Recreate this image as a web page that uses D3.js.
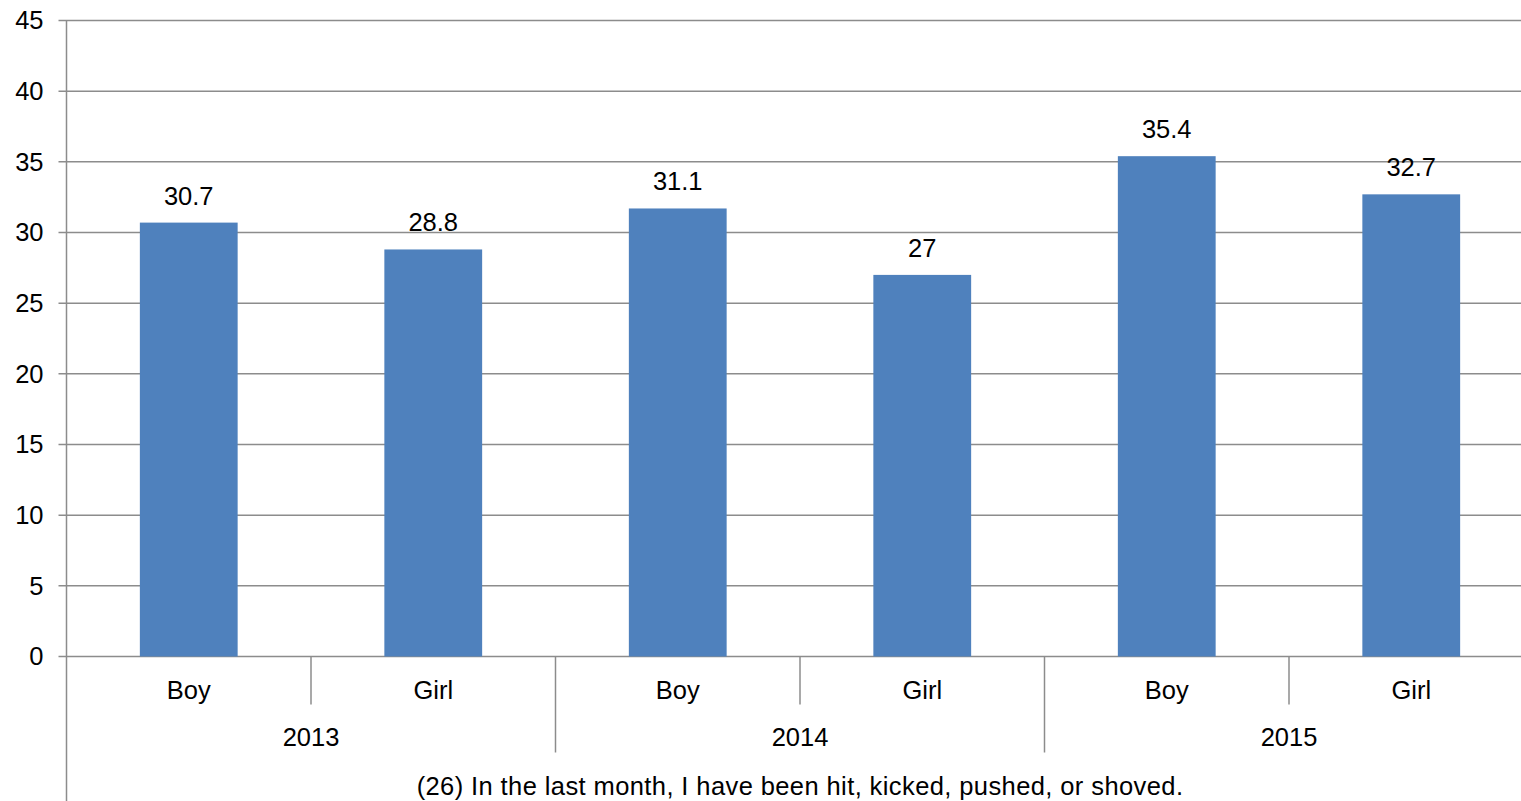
<!DOCTYPE html>
<html>
<head>
<meta charset="utf-8">
<script src="https://cdn.jsdelivr.net/npm/d3@7/dist/d3.min.js"></script>
<style>
  body { margin: 0; background: #fff; }
  svg { display: block; font-family: "Liberation Sans", Arial, sans-serif; }
  .grid line { stroke: #8c8c8c; stroke-width: 1.5px; }
  .axisLine { stroke: #8c8c8c; stroke-width: 1.5px; }
  text { fill: #000; font-size: 25.5px; }
</style>
</head>
<body>
<div id="chart"></div>
<script>
// data
var years = ['2013', '2014', '2015'];
var genders = ['Boy', 'Girl'];
var values = [30.7, 28.8, 31.7, 27, 35.4, 32.7];
var valueLabels = ['30.7', '28.8', '31.1', '27', '35.4', '32.7'];
var yTicks = [0, 5, 10, 15, 20, 25, 30, 35, 40, 45];
var caption = '(26) In the last month, I have been hit, kicked, pushed, or shoved.';

var W = 1521, H = 801;
var margin = { top: 20.5, left: 66.5 };
var plotW = 1467, plotH = 636;

var rows = [];
years.forEach(function(y) {
  genders.forEach(function(g) {
    rows.push({ year: y, gender: g, key: y + '-' + g });
  });
});
rows.forEach(function(d, i) { d.value = values[i]; d.label = valueLabels[i]; });

var x = d3.scaleBand()
  .domain(rows.map(function(d) { return d.key; }))
  .range([0, plotW])
  .paddingInner(0.6)
  .paddingOuter(0.3);

var y = d3.scaleLinear()
  .domain([0, 45])
  .range([plotH, 0]);

var svg = d3.select('#chart').append('svg')
  .attr('width', W)
  .attr('height', H);

var g = svg.append('g')
  .attr('transform', 'translate(' + margin.left + ',' + margin.top + ')');

// gridlines + left ticks
g.append('g')
  .attr('class', 'grid')
  .selectAll('line')
  .data(yTicks)
  .enter()
  .append('line')
  .attr('x1', -8)
  .attr('x2', plotW)
  .attr('y1', function(d) { return y(d); })
  .attr('y2', function(d) { return y(d); });

g.selectAll('text.ytick')
  .data(yTicks)
  .enter()
  .append('text')
  .attr('class', 'ytick')
  .attr('x', -23)
  .attr('y', function(d) { return y(d); })
  .attr('dy', '0.35em')
  .attr('text-anchor', 'end')
  .text(function(d) { return d; });

// bars
g.selectAll('rect.bar')
  .data(rows)
  .enter()
  .append('rect')
  .attr('class', 'bar')
  .attr('x', function(d) { return x(d.key); })
  .attr('width', x.bandwidth())
  .attr('y', function(d) { return y(d.value); })
  .attr('height', function(d) { return y(0) - y(d.value); })
  .attr('fill', '#4f81bd');

g.selectAll('text.val')
  .data(rows)
  .enter()
  .append('text')
  .attr('class', 'val')
  .attr('x', function(d) { return x(d.key) + x.bandwidth() / 2; })
  .attr('y', function(d) { return y(d.value) - 18; })
  .attr('text-anchor', 'middle')
  .text(function(d) { return d.label; });

// axis line (y) running down through the category area
g.append('line')
  .attr('class', 'axisLine')
  .attr('x1', 0).attr('x2', 0)
  .attr('y1', 0).attr('y2', H - margin.top);

var step = x.step();

// separators between genders and between years
var seps = d3.range(1, rows.length).map(function(i) {
  return { pos: i * step, major: i % genders.length === 0 };
});
g.selectAll('line.sep')
  .data(seps)
  .enter()
  .append('line')
  .attr('class', 'axisLine sep')
  .attr('x1', function(d) { return d.pos; })
  .attr('x2', function(d) { return d.pos; })
  .attr('y1', plotH)
  .attr('y2', function(d) { return plotH + (d.major ? 96 : 48); });

// gender labels
g.selectAll('text.cat')
  .data(rows)
  .enter()
  .append('text')
  .attr('class', 'cat')
  .attr('x', function(d) { return x(d.key) + x.bandwidth() / 2; })
  .attr('y', plotH + 42)
  .attr('text-anchor', 'middle')
  .text(function(d) { return d.gender; });

// year labels
g.selectAll('text.year')
  .data(years)
  .enter()
  .append('text')
  .attr('class', 'year')
  .attr('x', function(d, i) { return (i + 0.5) * step * genders.length; })
  .attr('y', plotH + 89)
  .attr('text-anchor', 'middle')
  .text(function(d) { return d; });

// caption
g.append('text')
  .attr('x', plotW * 0.5)
  .attr('y', plotH + 138)
  .attr('text-anchor', 'middle')
  .style('letter-spacing', '0.4px')
  .text(caption);
</script>
</body>
</html>
